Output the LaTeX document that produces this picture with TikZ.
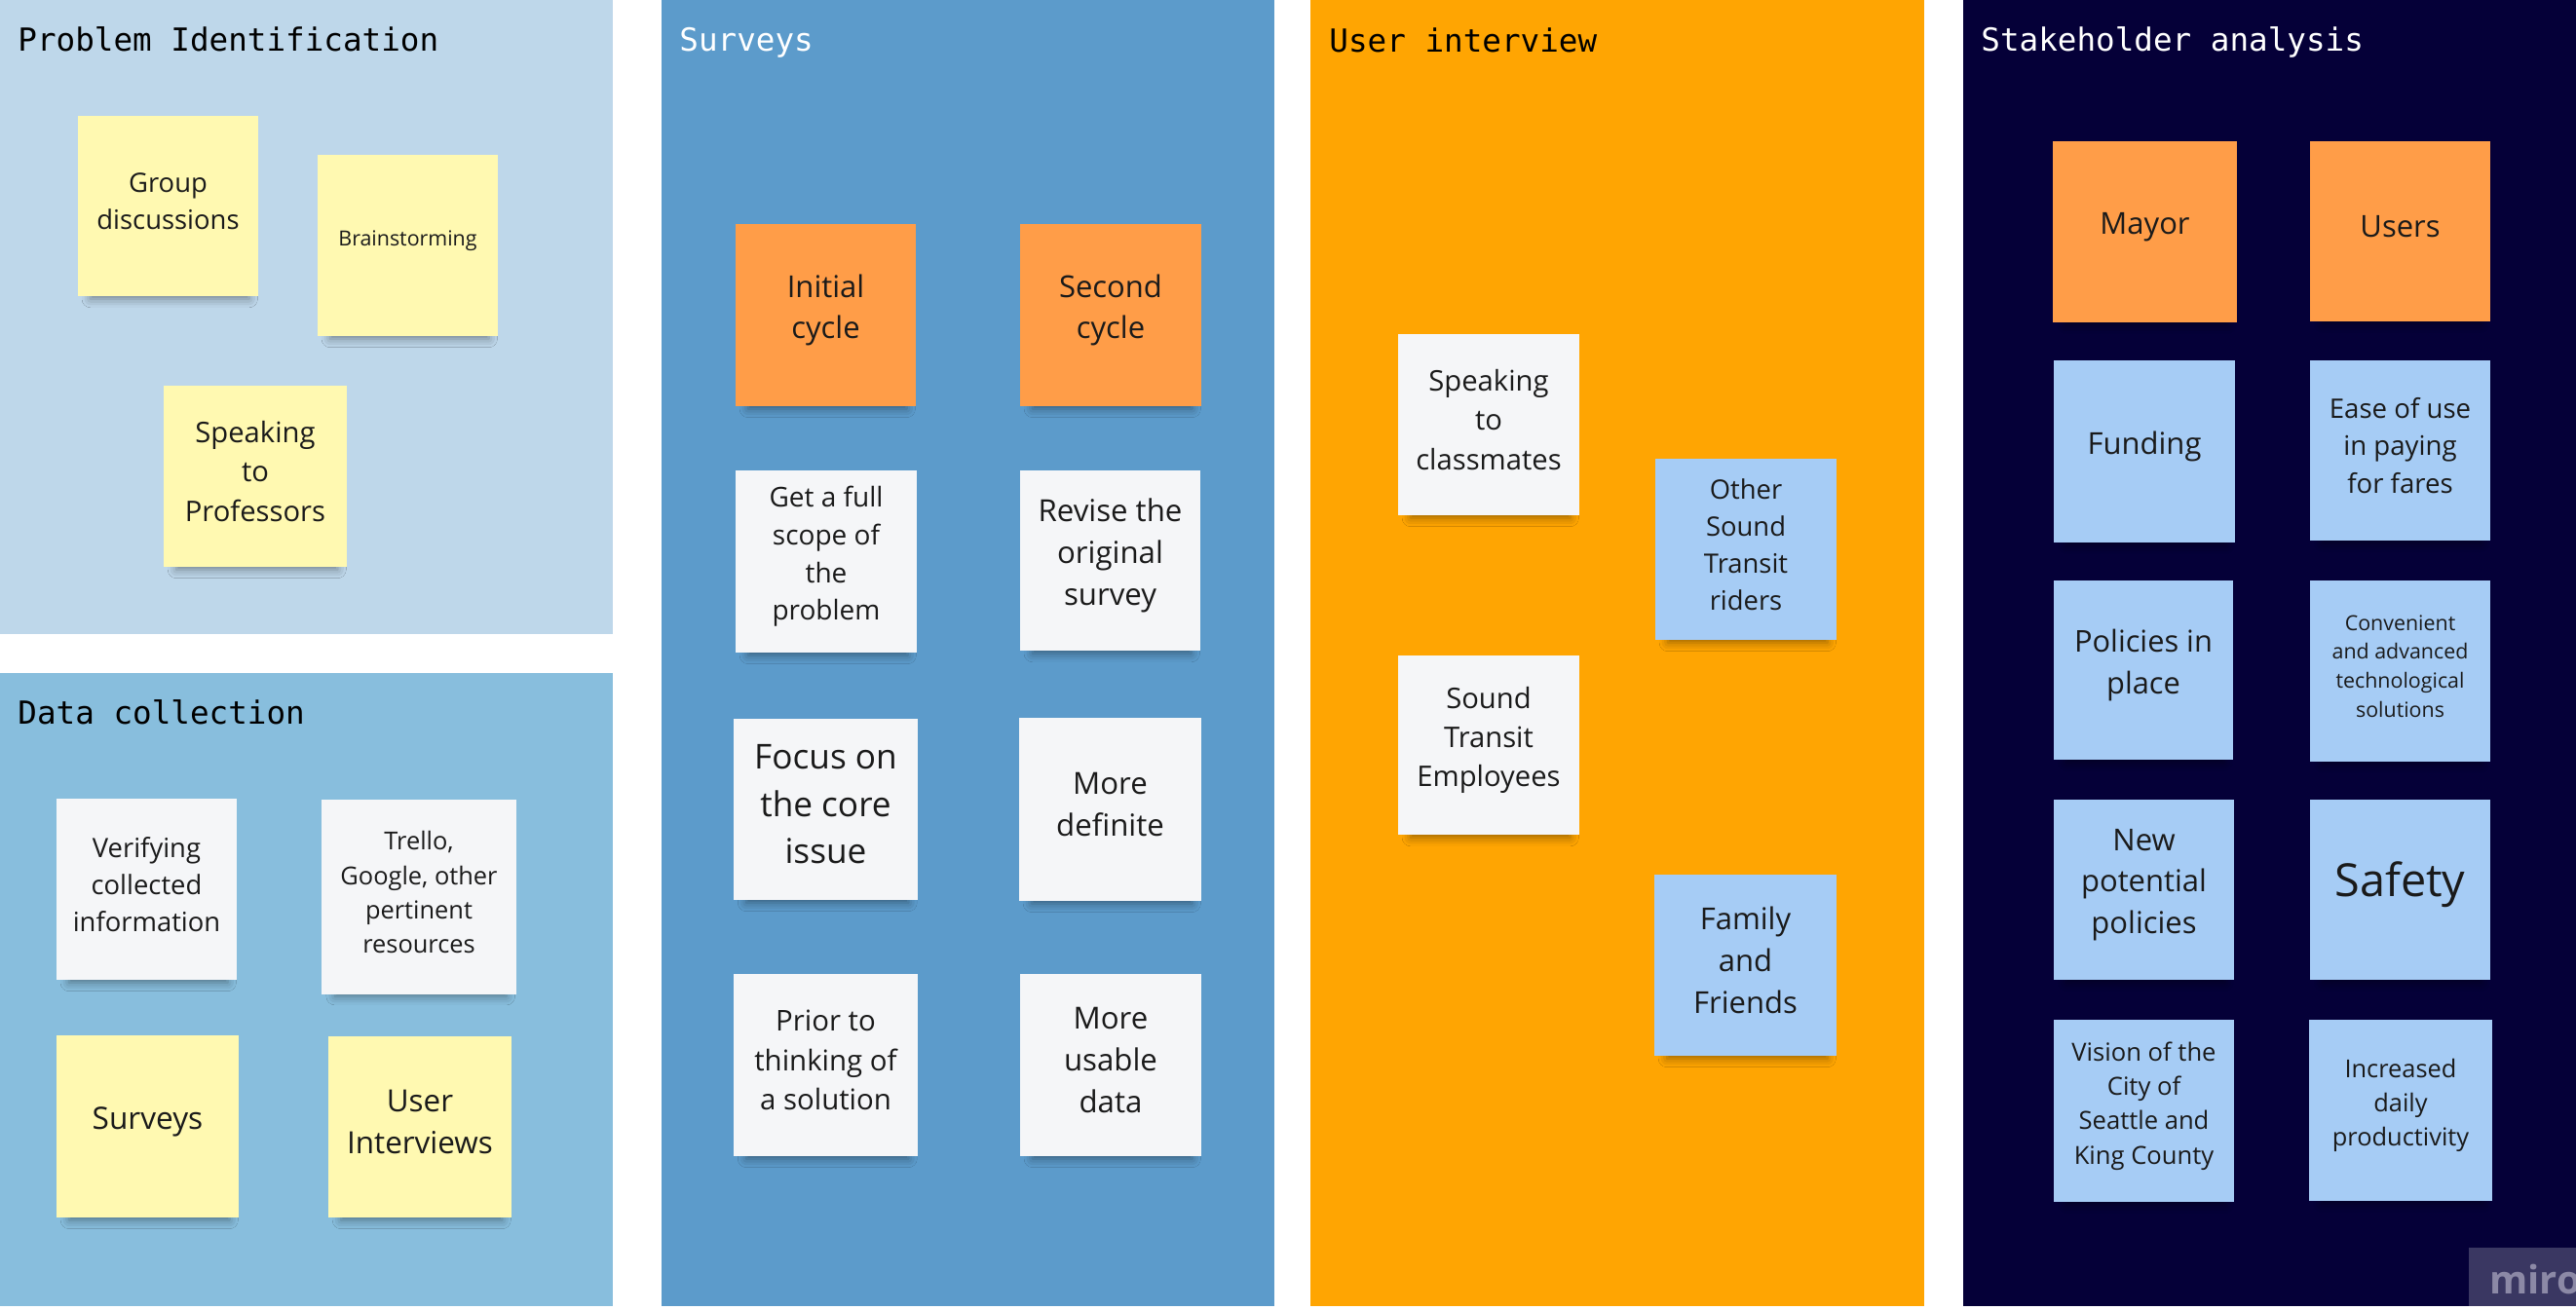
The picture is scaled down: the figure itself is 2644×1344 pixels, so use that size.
\documentclass[tikz,border=0pt]{standalone}
\usepackage{fontspec}
\setmainfont{Open Sans}
\newfontfamily\titlefont{DejaVu Sans Mono}
\usetikzlibrary{shadows.blur}
\definecolor{panelPI}{HTML}{BED7EA}
\definecolor{panelDC}{HTML}{88BEDD}
\definecolor{panelSV}{HTML}{5C9BCB}
\definecolor{panelUI}{HTML}{FFA502}
\definecolor{panelSA}{HTML}{050038}
\definecolor{stYellow}{HTML}{FFF9B1}
\definecolor{stWhite}{HTML}{F5F6F8}
\definecolor{stOrange}{HTML}{FF9D48}
\definecolor{stBlue}{HTML}{A6CCF5}
\definecolor{stText}{HTML}{1A1A1A}
\definecolor{miroBox}{HTML}{3A3762}
\definecolor{miroText}{HTML}{8C89A6}
\newcommand\fs[1]{\fontsize{#1pt}{\fpeval{#1*1.38}pt}\selectfont}
\tikzset{
  sticky/.style={rectangle, inner sep=0pt,
    blur shadow={shadow xshift=1pt, shadow yshift=-8pt, shadow scale=0.88,
      shadow blur radius=5pt, shadow opacity=40}},
  stickytext/.style={inner sep=0pt, align=center, text=stText},
  titletxt/.style={anchor=base west, inner sep=0pt, font=\titlefont\fs{16.3}},
}
\newcommand\stick[8]{%
  \node[sticky, fill=#6, minimum width={(#4-#2)*0.5pt}, minimum height={(#5-#3)*0.5pt}]
    (#1) at ({(#2+#4)/2},{(#3+#5)/2}) {};
  \node[stickytext, font=\fs{#7}] (#1-t) at ([yshift=2.5pt]#1.center) {#8};}
\begin{document}
\begin{tikzpicture}[x=0.5pt,y=-0.5pt]
\fill[white] (0,0) rectangle (2644,1344);
\useasboundingbox (0,0) rectangle (2644,1344);
% panels
\fill[panelPI] (0,0) rectangle (629,651);
\fill[panelDC] (0,691) rectangle (629,1341);
\fill[panelSV] (679,0) rectangle (1308,1341);
\fill[panelUI] (1345,0) rectangle (1975,1341);
\fill[panelSA] (2015,0) rectangle (2644,1341);
% titles
\node[titletxt, text=black] (tPI) at (18,52.6) {Problem Identification};
\node[titletxt, text=black] (tDC) at (18,743.5) {Data collection};
\node[titletxt, text=white] (tSV) at (697,52.7) {Surveys};
\node[titletxt, text=black] (tUI) at (1364,53) {User interview};
\node[titletxt, text=white] (tSA) at (2033,52.7) {Stakeholder analysis};
% Problem Identification
\stick{gd}{80}{119}{265}{304}{stYellow}{13.7}{Group\\discussions}
\stick{bs}{326}{159}{511}{345}{stYellow}{10.7}{Brainstorming}
\stick{sp}{168}{396}{356}{582}{stYellow}{14.6}{Speaking\\to\\Professors}
% Data collection
\stick{vci}{58}{820}{243}{1006}{stWhite}{13.7}{Verifying\\collected\\information}
\stick{tr}{330}{821}{530}{1021}{stWhite}{12.7}{Trello,\\Google, other\\pertinent\\resources}
\stick{sv}{58}{1063}{245}{1250}{stYellow}{15.8}{Surveys}
\stick{ui}{337}{1064}{525}{1250}{stYellow}{15.7}{User\\Interviews}
% Surveys
\stick{ic}{755}{230}{940}{417}{stOrange}{15.5}{Initial\\cycle}
\stick{sc}{1047}{230}{1233}{417}{stOrange}{15.5}{Second\\cycle}
\stick{gf}{755}{483}{941}{670}{stWhite}{14}{Get a full\\scope of\\the\\problem}
\stick{rv}{1047}{483}{1232}{668}{stWhite}{15.6}{Revise the\\original\\survey}
\stick{fo}{753}{738}{942}{924}{stWhite}{17.6}{Focus on\\the core\\issue}
\stick{md}{1046}{737}{1233}{925}{stWhite}{15.6}{More\\definite}
\stick{pr}{753}{1000}{942}{1187}{stWhite}{14.7}{Prior to\\thinking of\\a solution}
\stick{mu}{1047}{1000}{1233}{1187}{stWhite}{15.6}{More\\usable\\data}
% User interview
\stick{stc}{1435}{343}{1621}{529}{stWhite}{14.6}{Speaking\\to\\classmates}
\stick{ste}{1435}{673}{1621}{857}{stWhite}{14.6}{Sound\\Transit\\Employees}
\stick{osr}{1699}{471}{1885}{657}{stBlue}{13.7}{Other\\Sound\\Transit\\riders}
\stick{ff}{1698}{898}{1885}{1084}{stBlue}{15.5}{Family\\and\\Friends}
% Stakeholder analysis
\stick{ma}{2107}{145}{2296}{331}{stOrange}{15.5}{Mayor}
\stick{us}{2371}{145}{2556}{330}{stOrange}{15.5}{Users}
\stick{fu}{2108}{370}{2294}{557}{stBlue}{15.5}{Funding}
\stick{ea}{2371}{370}{2556}{555}{stBlue}{13.8}{Ease of use\\in paying\\for fares}
\stick{po}{2108}{596}{2292}{780}{stBlue}{15.4}{Policies in\\place}
\stick{co}{2371}{596}{2556}{782}{stBlue}{10.7}{Convenient\\and advanced\\technological\\solutions}
\stick{ne}{2108}{821}{2293}{1006}{stBlue}{15.5}{New\\potential\\policies}
\stick{sa}{2371}{821}{2556}{1006}{stBlue}{23.4}{Safety}
\stick{vi}{2108}{1047}{2293}{1234}{stBlue}{12.8}{Vision of the\\City of\\Seattle and\\King County}
\stick{in}{2370}{1047}{2558}{1233}{stBlue}{12.7}{Increased\\daily\\productivity}
% miro mark
\begin{scope}
\clip (2534,1281) rectangle (2644,1341);
\fill[miroBox] (2534,1281) rectangle (2644,1341);
\node[anchor=base west, inner sep=0pt, text=miroText, font=\bfseries\fs{20}] (miro) at (2555,1328) {miro};
\end{scope}
\end{tikzpicture}
\end{document}
